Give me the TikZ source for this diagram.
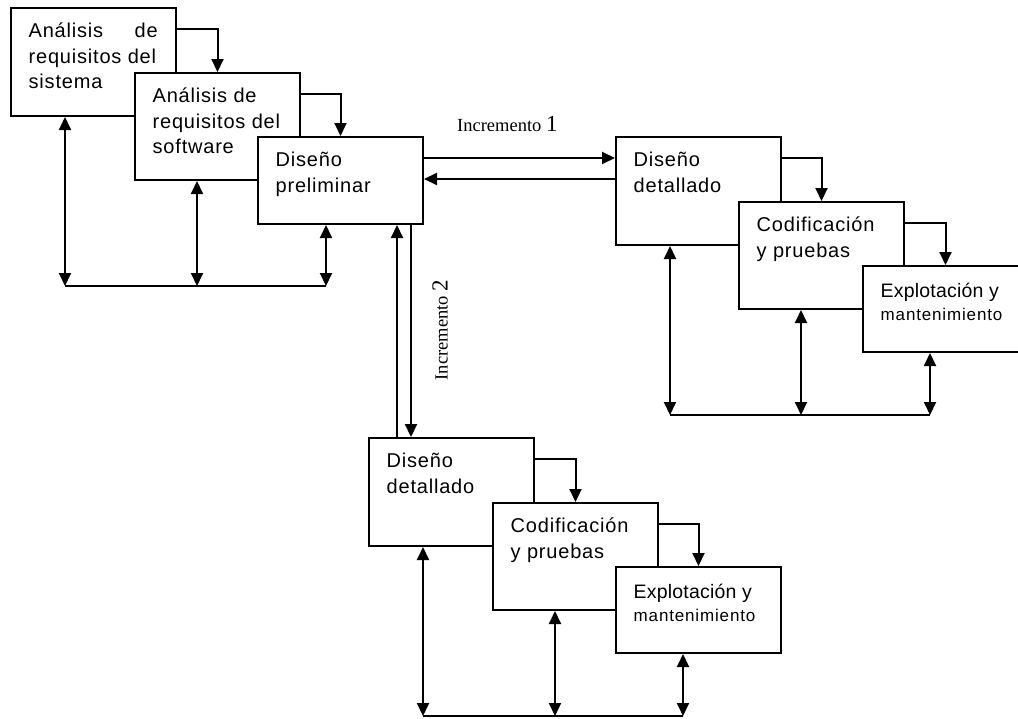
\documentclass[tikz,border=0pt]{standalone}
\usepackage{fontspec}
\setmainfont{Liberation Sans}
\newfontfamily\fa[LetterSpace=4]{Liberation Sans}
\newfontfamily\fb[LetterSpace=1]{Liberation Sans}
\newfontfamily\fc[LetterSpace=5]{Liberation Sans}
\newfontfamily\fser{Liberation Serif}
\usetikzlibrary{arrows.meta,calc}
\newcommand\tbox[1]{\parbox[t]{129pt}{\fontsize{20pt}{25.5pt}\selectfont\fa\rule{0pt}{30.5pt}#1}}
\newcommand\ebox{\parbox[t]{140pt}{\fontsize{19.5pt}{23pt}\selectfont\fb\rule{0pt}{32pt}Explotación y\\\fontsize{17pt}{23pt}\selectfont\fc mantenimiento}}
\begin{document}
\begin{tikzpicture}[x=1pt,y=-1pt,
  bx/.style={draw, fill=white, line width=2pt, rectangle, anchor=north west, minimum width=165pt, inner sep=0pt},
  tx/.style={anchor=north west, inner xsep=18.5pt, inner ysep=0pt},
  ar/.style={line width=2pt, -{Triangle[length=13pt,width=12pt]}},
  dbl/.style={line width=2pt, {Triangle[length=13pt,width=12pt]}-{Triangle[length=13pt,width=12pt]}},
  ln/.style={line width=2pt}]
\useasboundingbox (0,0) rectangle (1018,718);
\clip (0,0) rectangle (1018,718);

% ---------- first group ----------
\node[bx, minimum height=108pt] (a1) at (10,7) {};
\node[tx] (a1t) at (a1.north west) {\tbox{Análisis\hfill de\\requisitos del\\sistema}};
\node[bx, minimum height=107pt] (a2) at (134,72) {};
\node[tx] (a2t) at (a2.north west) {\tbox{Análisis de\\requisitos del\\software}};
\node[bx, minimum height=87pt] (a3) at (257,136) {};
\node[tx] (a3t) at (a3.north west) {\tbox{Diseño\\preliminar}};

\draw[ar] ($(a1.north east)+(0,21.5)$) -| (a2.north);
\draw[ar] ($(a2.north east)+(0,21.5)$) -| (a3.north);

\coordinate (abot) at (0,286);
\coordinate (a1b) at ($(a1.south west)+(55,0)$);
\coordinate (a2b) at ($(a2.south west)+(63,0)$);
\coordinate (a3b) at ($(a3.south west)+(69,0)$);
\draw[dbl] (a1b) -- (a1b |- abot);
\draw[dbl] (a2b) -- (a2b |- abot);
\draw[dbl] (a3b) -- (a3b |- abot);
\draw[ln] (a1b |- abot) -- (a3b |- abot);

% ---------- increment 1 group ----------
\node[bx, minimum height=108pt] (d1) at (615,136) {};
\node[tx] (d1t) at (d1.north west) {\tbox{Diseño\\detallado}};
\node[bx, minimum height=107pt] (c1) at (738,201) {};
\node[tx] (c1t) at (c1.north west) {\tbox{Codificación\\y pruebas}};
\node[bx, minimum height=86pt] (e1) at (862,265) {};
\node[tx] (e1t) at (e1.north west) {\ebox};

\draw[ar] ($(d1.north east)+(0,21.5)$) -| (c1.north);
\draw[ar] ($(c1.north east)+(0,21.5)$) -| (e1.north);

\coordinate (dbot) at (0,415);
\coordinate (d1b) at ($(d1.south west)+(55,0)$);
\coordinate (c1b) at ($(c1.south west)+(63,0)$);
\coordinate (e1b) at ($(e1.south west)+(68,0)$);
\draw[dbl] (d1b) -- (d1b |- dbot);
\draw[dbl] (c1b) -- (c1b |- dbot);
\draw[dbl] (e1b) -- (e1b |- dbot);
\draw[ln] (d1b |- dbot) -- (e1b |- dbot);

% ---------- increment 2 group ----------
\node[bx, minimum height=108pt] (d2) at (368,437) {};
\node[tx] (d2t) at (d2.north west) {\tbox{Diseño\\detallado}};
\node[bx, minimum height=107pt] (c2) at (492,502) {};
\node[tx] (c2t) at (c2.north west) {\tbox{Codificación\\y pruebas}};
\node[bx, minimum height=86pt] (e2) at (615,566) {};
\node[tx] (e2t) at (e2.north west) {\ebox};

\draw[ar] ($(d2.north east)+(0,21.5)$) -| (c2.north);
\draw[ar] ($(c2.north east)+(0,21.5)$) -| (e2.north);

\coordinate (fbot) at (0,716);
\coordinate (d2b) at ($(d2.south west)+(55,0)$);
\coordinate (c2b) at ($(c2.south west)+(63,0)$);
\coordinate (e2b) at ($(e2.south west)+(68,0)$);
\draw[dbl] (d2b) -- (d2b |- fbot);
\draw[dbl] (c2b) -- (c2b |- fbot);
\draw[dbl] (e2b) -- (e2b |- fbot);
\draw[ln] (d2b |- fbot) -- (e2b |- fbot);

% ---------- increment connectors ----------
\coordinate (i1a) at ($(a3.north east)+(0,22)$);
\coordinate (i1b) at ($(d1.north west)+(0,43)$);
\draw[ar] (i1a) -- (i1a -| d1.west);
\draw[ar] (i1b) -- (i1b -| a3.east);

\coordinate (i2a) at ($(a3.south west)+(140,0)$);
\coordinate (i2b) at ($(a3.south west)+(154,0)$);
\draw[ar] (i2a |- d2.north) -- (i2a);
\draw[ar] (i2b) -- (i2b |- d2.north);

\node[anchor=base west, inner sep=0pt, font=\fser] (inc1) at (457,131)
  {\fontsize{18.5pt}{20pt}\selectfont Incremento \fontsize{23pt}{24pt}\selectfont 1};
\node[rotate=90, inner sep=0pt, font=\fser] (inc2) at (440,330)
  {\fontsize{18.5pt}{20pt}\selectfont Incremento \fontsize{23pt}{24pt}\selectfont 2};
\end{tikzpicture}
\end{document}
